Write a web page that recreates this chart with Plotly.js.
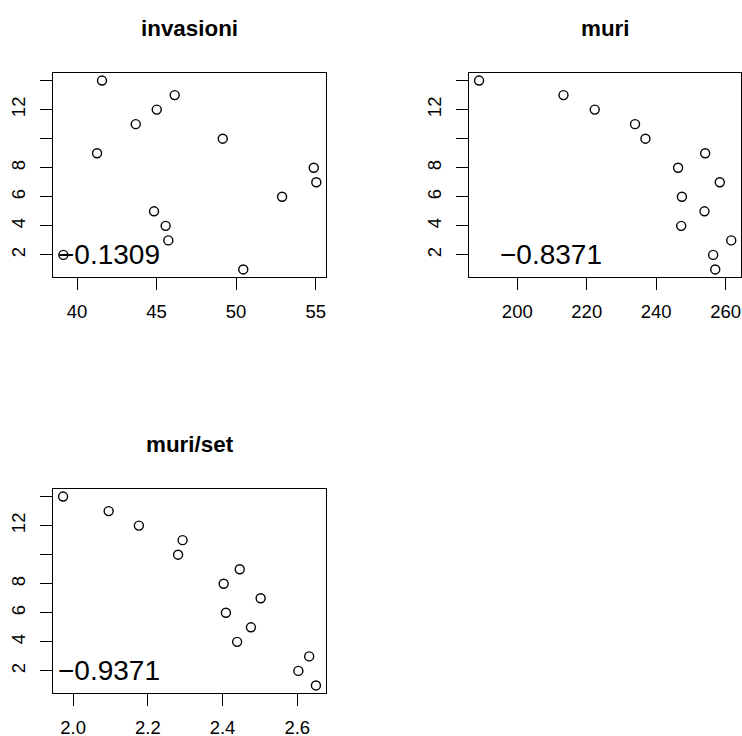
<!DOCTYPE html>
<html>
<head>
<meta charset="utf-8">
<script src="https://cdn.plot.ly/plotly-3.0.1.min.js"></script>
<style>html,body{margin:0;padding:0;background:#fff;}#chart{width:742px;height:736px;}</style>
</head>
<body>
<div id="chart"></div>
<script>
// rank (y values), shared by all panels
const rank = [14, 13, 12, 11, 10, 9, 8, 7, 6, 5, 4, 3, 2, 1];
const invasioni = [41.57, 46.14, 45.01, 43.69, 49.16, 41.26, 54.88, 55.04, 52.89, 44.84, 45.57, 45.74, 39.14, 50.45];
const muri = [189.0, 213.3, 222.3, 233.9, 236.9, 254.1, 246.3, 258.3, 247.4, 253.9, 247.2, 261.6, 256.4, 257.0];
const muriSet = [1.973, 2.095, 2.176, 2.293, 2.281, 2.446, 2.403, 2.502, 2.409, 2.476, 2.439, 2.632, 2.603, 2.650];
const panelTitles = ["invasioni", "muri", "muri/set"];
const corrLabels = ["\u22120.1309", "\u22120.8371", "\u22120.9371"];
const yTickVals = [2, 4, 6, 8, 10, 12, 14];
const yTickText = ["2", "4", "6", "8", "", "12", ""];
const x1Ticks = [40, 45, 50, 55];
const x2Ticks = [200, 220, 240, 260];
const x3Ticks = [2.0, 2.2, 2.4, 2.6];

const FONT = '"Liberation Sans", Arial, Helvetica, sans-serif';
const W = 742, H = 736;
const px = v => v / W;
const py = v => 1 - v / H;

const marker = {symbol: 'circle-open', size: 9, color: '#000', line: {color: '#000', width: 1.4}};
const traces = [
  {x: invasioni, y: rank, xaxis: 'x', yaxis: 'y', type: 'scatter', mode: 'markers', marker: marker, hoverinfo: 'skip'},
  {x: muri, y: rank, xaxis: 'x2', yaxis: 'y2', type: 'scatter', mode: 'markers', marker: marker, hoverinfo: 'skip'},
  {x: muriSet, y: rank, xaxis: 'x3', yaxis: 'y3', type: 'scatter', mode: 'markers', marker: marker, hoverinfo: 'skip'}
];

function xax(dom, rng, ticks, anchor, fmt) {
  return {domain: dom, range: rng, anchor: anchor, tickmode: 'array', tickvals: ticks,
    tickformat: fmt || '', ticks: 'outside', ticklen: 12, tickwidth: 1, tickcolor: '#000',
    showline: true, mirror: true, linecolor: '#000', linewidth: 1, showgrid: false, zeroline: false,
    tickfont: {family: FONT, size: 18.5, color: '#000'}, ticklabelstandoff: 6};
}
function yax(dom, anchor) {
  return {domain: dom, range: [0.48, 14.52], anchor: anchor, tickmode: 'array', tickvals: yTickVals,
    ticktext: yTickText, tickangle: -90, ticks: 'outside', ticklen: 12, tickwidth: 1, tickcolor: '#000',
    showline: true, mirror: true, linecolor: '#000', linewidth: 1, showgrid: false, zeroline: false,
    tickfont: {family: FONT, size: 18.5, color: '#000'}, ticklabelstandoff: 8};
}

const xd1 = [px(53), px(326)], xd2 = [px(469), px(741.3)];
const yd1 = [py(277), py(73)], yd3 = [py(693), py(489)];

const annotations = [
  {text: '<b>' + panelTitles[0] + '</b>', xref: 'paper', yref: 'paper', x: px(189.5), y: py(28), xanchor: 'center', yanchor: 'middle', showarrow: false, font: {family: FONT, size: 22.4, color: '#000'}},
  {text: '<b>' + panelTitles[1] + '</b>', xref: 'paper', yref: 'paper', x: px(605.2), y: py(28), xanchor: 'center', yanchor: 'middle', showarrow: false, font: {family: FONT, size: 22.4, color: '#000'}},
  {text: '<b>' + panelTitles[2] + '</b>', xref: 'paper', yref: 'paper', x: px(189.5), y: py(444), xanchor: 'center', yanchor: 'middle', showarrow: false, font: {family: FONT, size: 22.4, color: '#000'}},
  {text: corrLabels[0], xref: 'x', yref: 'y', x: 42.03, y: 2, xanchor: 'center', yanchor: 'middle', showarrow: false, font: {family: FONT, size: 28, color: '#000'}},
  {text: corrLabels[1], xref: 'x2', yref: 'y2', x: 209.6, y: 2, xanchor: 'center', yanchor: 'middle', showarrow: false, font: {family: FONT, size: 28, color: '#000'}},
  {text: corrLabels[2], xref: 'x3', yref: 'y3', x: 2.096, y: 2, xanchor: 'center', yanchor: 'middle', showarrow: false, font: {family: FONT, size: 28, color: '#000'}}
];

const layout = {
  width: W, height: H, margin: {l: 0, r: 0, t: 0, b: 0},
  paper_bgcolor: '#fff', plot_bgcolor: '#fff', showlegend: false,
  font: {family: FONT, color: '#000'},
  xaxis: xax(xd1, [38.49, 55.65], x1Ticks, 'y'),
  yaxis: yax(yd1, 'x'),
  xaxis2: xax(xd2, [186.1, 264.5], x2Ticks, 'y2'),
  yaxis2: yax(yd1, 'x2'),
  xaxis3: xax(xd1, [1.946, 2.677], x3Ticks, 'y3', '.1f'),
  yaxis3: yax(yd3, 'x3'),
  annotations: annotations
};

Plotly.newPlot('chart', traces, layout, {staticPlot: true, displayModeBar: false});
</script>
</body>
</html>
